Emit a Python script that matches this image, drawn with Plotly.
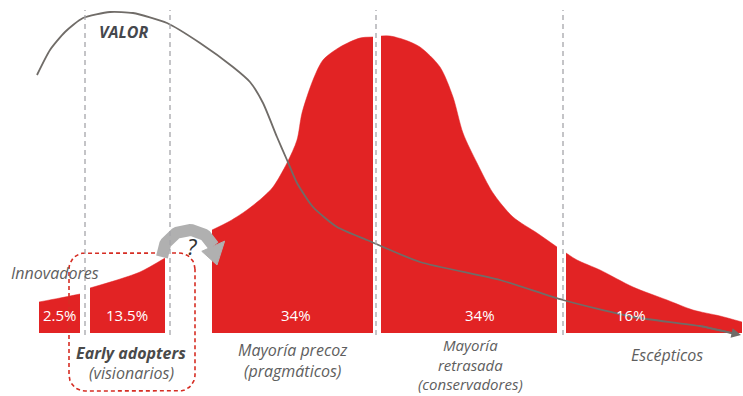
import numpy as np
import plotly.graph_objects as go

# --- Adoption curve: segments (x position, height above baseline) ---
seg_names = ["Innovadores", "Early adopters", "Mayoría precoz", "Mayoría retrasada", "Escépticos"]
seg_share = ["2.5%", "13.5%", "34%", "34%", "16%"]
seg_x = [
    [39, 60, 80],
    [90, 117, 140, 165],
    [212, 230, 247, 262, 273, 287, 297, 302, 313, 323, 340, 360, 373],
    [381, 390, 405, 420, 440, 453, 463, 477, 493, 513, 537, 557],
    [566, 577, 600, 633, 667, 693, 720, 742],
]
seg_h = [
    [31, 35, 39],
    [45, 53, 61, 75],
    [103, 112, 123, 135, 146, 170, 193, 220, 253, 273, 286, 295, 296],
    [297, 297, 293, 286, 266, 236, 200, 170, 140, 116, 100, 86],
    [80, 73, 63, 46, 33, 23, 17, 11],
]
share_label_x = [60, 127, 296, 480, 631]
share_label_y = 18

# --- "VALOR" curve ---
valor_x = [37, 50, 65, 83, 110, 133, 167, 200, 233, 250, 263, 277, 287, 297, 313, 337, 367, 420, 500, 563, 633, 700]
valor_y = [258, 283, 301, 315, 321, 320, 310, 290, 266, 251, 230, 196, 173, 150, 126, 106, 93, 71, 53, 33, 16, 7]
valor_end = (741, -2)

# --- Segment boundaries (dashed guides) ---
guide_x = [85, 170, 376, 563]

RED = "rgb(226,35,36)"
GREY_TXT = "#5e5e5e"
FONT = "Open Sans"

fig = go.Figure()

for xs, hs in zip(seg_x, seg_h):
    fig.add_trace(go.Scatter(
        x=xs, y=hs, mode="lines", fill="tozeroy",
        line=dict(color=RED, width=0.5, shape="spline", smoothing=0.8),
        fillcolor=RED, hoverinfo="skip", showlegend=False,
    ))

# Dashed rounded box around the early adopters
bx0, bx1, by0, by1, r = 69, 195, -58, 80, 16
t = np.linspace(0, np.pi / 2, 10)
corners = [
    (bx1 - r, by1 - r, 0.0),
    (bx0 + r, by1 - r, np.pi / 2),
    (bx0 + r, by0 + r, np.pi),
    (bx1 - r, by0 + r, 1.5 * np.pi),
]
px, py = [], []
for cx, cy, a0 in corners:
    aa = a0 + t
    px.extend(cx + r * np.cos(aa))
    py.extend(cy + r * np.sin(aa))
px.append(px[0]); py.append(py[0])
fig.add_trace(go.Scatter(
    x=px, y=py, mode="lines",
    line=dict(color="rgb(214,45,35)", width=1.6, dash="4px,3px"),
    hoverinfo="skip", showlegend=False,
))

# Curved grey arrow over the chasm
acx, acy, ar = 189, 76, 27
ang = np.linspace(np.pi, np.radians(24), 40)
ARC = "rgb(176,176,176)"
fig.add_trace(go.Scatter(
    x=acx + ar * np.cos(ang), y=acy + ar * np.sin(ang), mode="lines",
    line=dict(color=ARC, width=12),
    hoverinfo="skip", showlegend=False,
))
a_b = np.radians(24)
head_x = [acx + 39 * np.cos(a_b), acx + 14 * np.cos(a_b), 217, acx + 39 * np.cos(a_b)]
head_y = [acy + 39 * np.sin(a_b), acy + 14 * np.sin(a_b), 68, acy + 39 * np.sin(a_b)]
fig.add_trace(go.Scatter(
    x=head_x, y=head_y, mode="lines", fill="toself",
    fillcolor=ARC, line=dict(color=ARC, width=1),
    hoverinfo="skip", showlegend=False,
))

# VALOR line
fig.add_trace(go.Scatter(
    x=valor_x + [valor_end[0] - 4], y=valor_y + [valor_end[1] + 0.5], mode="lines",
    line=dict(color="rgb(112,108,104)", width=1.8, shape="spline", smoothing=0.6),
    hoverinfo="skip", showlegend=False,
))
fig.add_annotation(
    x=valor_end[0], y=valor_end[1], ax=valor_x[-1], ay=valor_y[-1],
    xref="x", yref="y", axref="x", ayref="y", text="", showarrow=True,
    arrowhead=2, arrowsize=1.2, arrowwidth=1.6, arrowcolor="rgb(112,108,104)",
)

for gx in guide_x:
    fig.add_shape(type="line", x0=gx, x1=gx, y0=-2, y1=323, layer="above",
                  line=dict(color="rgb(165,165,170)", width=1.3, dash="5px,4px"))

# Percent labels
for lx, lab in zip(share_label_x, seg_share):
    fig.add_annotation(x=lx, y=share_label_y, text=lab, showarrow=False,
                       font=dict(family=FONT, size=15, color="white"))

# Text labels
def label(x, y, text, size=16, color=GREY_TXT, weight="normal", yanchor="middle"):
    fig.add_annotation(x=x, y=y, text=text, showarrow=False, xanchor="center", yanchor=yanchor,
                       font=dict(family=FONT, size=size, color=color, style="italic", weight=weight))

label(123, 301, "VALOR", size=16, color="#45474d", weight="bold")
label(55, 60, "Innovadores")
label(131, -20, "Early adopters", size=16, color="#4a4a4a", weight="bold")
label(131, -40, "(visionarios)")
label(293, -27, "Mayoría precoz<br>(pragmáticos)")
label(470, -63, "Mayoría<br>retrasada<br>(conservadores)", size=15, yanchor="bottom")
label(667, -22, "Escépticos")
label(192, 87, "?", size=22, color="#333333", weight="normal")

fig.update_layout(
    width=743, height=396,
    margin=dict(l=0, r=0, t=0, b=0),
    paper_bgcolor="white", plot_bgcolor="white",
    xaxis=dict(range=[0, 743], visible=False, fixedrange=True),
    yaxis=dict(range=[-63, 333], visible=False, fixedrange=True),
    showlegend=False,
)

fig.write_html("out.html")
